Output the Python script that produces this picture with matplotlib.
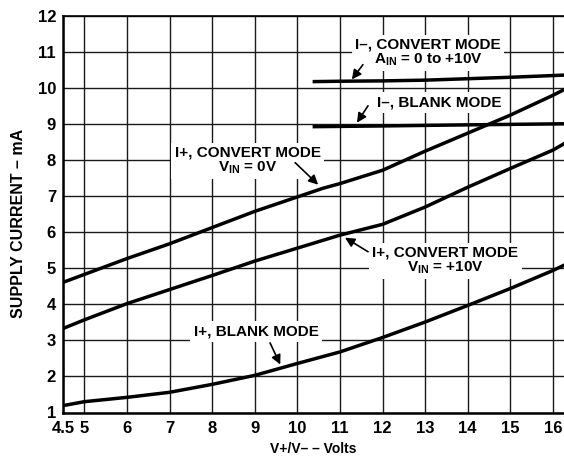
import matplotlib
matplotlib.use("Agg")
import matplotlib.pyplot as plt

# 数据
v_ip_conv0 = [4.5, 5, 6, 7, 8, 9, 10, 10.6, 11, 12, 13, 14, 15, 16, 16.25]
i_ip_conv0 = [4.61, 4.83, 5.27, 5.68, 6.13, 6.58, 6.98, 7.22, 7.35, 7.72, 8.25, 8.75, 9.25, 9.8, 9.95]

v_ip_conv10 = [4.5, 5, 6, 7, 8, 9, 10, 11, 12, 13, 14, 15, 16, 16.25]
i_ip_conv10 = [3.33, 3.57, 4.02, 4.41, 4.8, 5.2, 5.56, 5.92, 6.22, 6.7, 7.25, 7.77, 8.28, 8.45]

v_ip_blank = [4.5, 5, 6, 7, 8, 9, 10, 11, 12, 13, 14, 15, 16, 16.25]
i_ip_blank = [1.19, 1.3, 1.42, 1.56, 1.78, 2.03, 2.36, 2.68, 3.08, 3.51, 3.97, 4.44, 4.94, 5.08]

v_in_conv = [10.4, 11, 12, 13, 14, 15, 16.25]
i_in_conv = [10.18, 10.19, 10.2, 10.22, 10.26, 10.3, 10.36]

v_in_blank = [10.4, 12, 14, 16.25]
i_in_blank = [8.93, 8.95, 8.98, 9.01]

x_ticks = [4.5, 5, 6, 7, 8, 9, 10, 11, 12, 13, 14, 15, 16]
x_tick_labels = ["4.5", "5", "6", "7", "8", "9", "10", "11", "12", "13", "14", "15", "16"]
y_ticks = list(range(1, 13))

plt.rcParams["font.family"] = ["Liberation Sans", "DejaVu Sans"]
plt.rcParams["font.weight"] = "bold"
plt.rcParams["mathtext.fontset"] = "custom"
plt.rcParams["mathtext.rm"] = "Liberation Sans:bold"
plt.rcParams["mathtext.it"] = "Liberation Sans:bold"
plt.rcParams["mathtext.bf"] = "Liberation Sans:bold"

fig = plt.figure(figsize=(5.64, 4.57), dpi=100)
ax = fig.add_axes([63 / 564, 44.5 / 457, 501 / 564, 396.5 / 457])

ax.set_xlim(4.5, 16.26)
ax.set_ylim(1, 12)
ax.set_xticks(x_ticks)
ax.set_xticklabels(x_tick_labels)
ax.set_yticks(y_ticks)
ax.tick_params(axis="x", length=0, labelsize=12, pad=6)
ax.tick_params(axis="y", length=0, labelsize=12, pad=5)
ax.grid(True, color="#1a1a1a", linewidth=1.0)
ax.set_axisbelow(True)
for s in ["left", "bottom"]:
    ax.spines[s].set_linewidth(1.8)
ax.spines["top"].set_linewidth(1.2)
ax.spines["right"].set_visible(False)

lw = 2.5
ax.plot(v_ip_conv0, i_ip_conv0, color="black", lw=lw)
ax.plot(v_ip_conv10, i_ip_conv10, color="black", lw=lw)
ax.plot(v_ip_blank, i_ip_blank, color="black", lw=lw)
ax.plot(v_in_conv, i_in_conv, color="black", lw=lw)
ax.plot(v_in_blank, i_in_blank, color="black", lw=lw)

box = dict(facecolor="white", edgecolor="none", pad=2.5)
txt = dict(ha="center", va="center", fontsize=11, fontweight="bold",
           bbox=box, linespacing=1.0)
arr = dict(arrowstyle="-|>", color="black", lw=1.2, mutation_scale=14,
           shrinkA=0, shrinkB=0)

ax.text(8.84, 7.99, "I+, CONVERT MODE\nV$_{IN}$ = 0V", **txt)
ax.annotate("", xy=(10.49, 7.32), xytext=(9.95, 7.93), arrowprops=arr)

ax.text(13.47, 5.21, "I+, CONVERT MODE\nV$_{IN}$ = +10V", **txt)
ax.annotate("", xy=(11.12, 5.85), xytext=(11.66, 5.46), arrowprops=arr)

ax.text(9.03, 3.24, "I+, BLANK MODE", **txt)
ax.annotate("", xy=(9.6, 2.33), xytext=(9.36, 2.93), arrowprops=arr)

ax.text(13.07, 10.99, "I–, CONVERT MODE\nA$_{IN}$ = 0 to +10V", **txt)
ax.annotate("", xy=(11.28, 10.24), xytext=(11.54, 10.65), arrowprops=arr)

ax.text(13.33, 9.6, "I–, BLANK MODE", **txt)
ax.annotate("", xy=(11.4, 9.04), xytext=(11.66, 9.51), arrowprops=arr)

ax.set_ylabel("SUPPLY CURRENT – mA", fontsize=11.5, fontweight="bold")
ax.yaxis.set_label_coords(-0.073, 0.477)
ax.set_xlabel("V+/V– – Volts", fontsize=10, fontweight="bold")
ax.xaxis.set_label_coords(0.5, -0.075)

fig.savefig("out.png", dpi=100)
